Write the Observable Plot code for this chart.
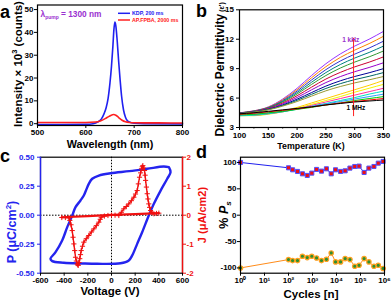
<!DOCTYPE html>
<html><head><meta charset="utf-8">
<script src="https://cdn.jsdelivr.net/npm/d3@7"></script>
<script src="https://cdn.jsdelivr.net/npm/@observablehq/plot@0.6"></script>
<style>
html,body{margin:0;padding:0;background:#fff;}
#chart{position:relative;width:392px;height:300px;overflow:hidden;background:#fff;}
</style></head><body><div id="chart"></div>
<script>
// ---------- Panel a: SHG emission spectra ----------
const kdpWavelength = [500,550,600,615,625,632,638,642,646,650,653,656,658,660,662,665,668,671,674,678,682,686,690,700,720,800];
const kdpIntensity  = [-0.4,-0.4,-0.3,0,0.8,2,4.5,7,11,18,25,34,41,44.5,43,36,27,19,12,6,2.8,1.3,0.7,0.2,0,-0.1];
const apWavelength  = [500,550,600,620,630,640,648,655,658,662,668,675,682,690,700,750,800];
const apIntensity   = [0.5,0.5,0.5,0.7,1.2,2.2,3.2,3.9,4.0,3.7,2.7,1.5,0.8,0.5,0.4,0.35,0.3];
const aXTicks = [500,600,700,800];
const aYTicks = [0,10,20,30,40,50];

// ---------- Panel b: dielectric permittivity vs temperature ----------
const temperatures = [100,125,150,175,200,225,250,275,300,325,350];
const permittivity = [
  [4.5,4.7,5.1,5.9,7.0,8.3,9.5,10.5,11.3,12.0,12.8],
  [4.49,4.69,5.07,5.82,6.85,8.07,9.2,10.14,10.89,11.55,12.3],
  [4.48,4.67,5.03,5.74,6.71,7.84,8.9,9.78,10.48,11.1,11.8],
  [4.48,4.66,5.0,5.66,6.56,7.61,8.6,9.42,10.08,10.65,11.3],
  [4.47,4.65,4.97,5.59,6.42,7.39,8.3,9.06,9.67,10.2,10.8],
  [4.46,4.63,4.93,5.49,6.24,7.11,7.94,8.62,9.18,9.66,10.2],
  [4.45,4.61,4.89,5.4,6.06,6.84,7.58,8.19,8.69,9.12,9.6],
  [4.44,4.59,4.85,5.3,5.89,6.56,7.22,7.76,8.2,8.58,9.0],
  [4.44,4.58,4.83,5.24,5.77,6.38,6.98,7.47,7.88,8.22,8.6],
  [4.43,4.57,4.8,5.18,5.65,6.2,6.74,7.18,7.55,7.86,8.2],
  [4.3,4.3,4.45,4.7,5.05,5.5,5.95,6.4,6.85,7.3,7.8],
  [4.2,4.2,4.35,4.6,4.95,5.35,5.75,6.15,6.6,7.0,7.4],
  [4.25,4.25,4.4,4.6,4.9,5.25,5.6,5.95,6.3,6.65,7.0],
  [4.2,4.25,4.4,4.6,4.85,5.15,5.45,5.75,6.05,6.4,6.7],
  [4.3,4.35,4.5,4.65,4.9,5.15,5.4,5.65,5.9,6.15,6.4],
  [4.3,4.35,4.5,4.65,4.85,5.05,5.3,5.5,5.75,5.95,6.15],
  [4.35,4.45,4.6,4.75,4.9,5.1,5.3,5.5,5.65,5.8,5.95],
  [4.4,4.5,4.65,4.8,4.95,5.1,5.3,5.45,5.6,5.7,5.8]
];
const curveColors = ["#9933ff","#ff8000","#3333cc","#008080","#339933","#cc0033","#9900cc","#000099","#006666","#999933","#ffcc00","#f5f500","#ff3399","#00e0c0","#3399ff","#00cc00","#ff0000","#000000"];
const bXTicks = [100,150,200,250,300,350];
const bXMinor = [125,175,225,275,325];
const bYTicks = [3,6,9,12,15];
const freqArrow = [{t: 298, from: 4.2, to: 12.1}];
const freqLabels = [{t: 293, v: 11.9, text: "1 kHz", anchor: "end"}, {t: 302, v: 5.0, text: "1 MHz", anchor: "start"}];

// ---------- Panel c: P-E loop and J-E curve ----------
const loopVoltage = [485,442,300,150,-8,-107,-163,-192,-215,-234,-262,-304,-332,-374,-417,-473,-516,-501,-403,-250,-121,76,146,175,217,259,315,358,414,471,499,485];
const loopP       = [0.414,0.42,0.40,0.38,0.362,0.342,0.314,0.27,0.215,0.17,0.127,0.069,-0.003,-0.103,-0.218,-0.319,-0.376,-0.396,-0.41,-0.416,-0.419,-0.414,-0.39,-0.347,-0.247,-0.147,-0.003,0.098,0.21,0.314,0.371,0.414];
const currentVoltage = [-420,-390,-360,-352,-342,-332,-325,-318,-311,-304,-297,-290,-285,-281,-275,-268,-262,-256,-245,-234,-213,-192,-170,-149,-128,-107,-95,-87,-60,-30,0,30,62,83,104,125,146,168,189,203,217,227,237,246,254,260,265,272,279,284,288,295,302,308,315,322,330,344,358,380,400];
const currentJ       = [-0.08,-0.08,-0.09,-0.18,-0.33,-0.53,-0.76,-0.99,-1.22,-1.45,-1.58,-1.68,-1.71,-1.73,-1.63,-1.5,-1.36,-1.22,-1.07,-0.93,-0.81,-0.70,-0.58,-0.47,-0.36,-0.24,-0.14,-0.07,-0.03,-0.01,0,0,-0.01,0.1,0.22,0.3,0.39,0.5,0.62,0.73,0.85,1.08,1.31,1.46,1.6,1.67,1.71,1.63,1.54,1.38,1.2,0.97,0.74,0.56,0.39,0.27,0.16,0.09,0.05,0.06,0.07];
const returnVoltage = [400,200,0,-200,-420];
const returnJ       = [0.07,0.04,0.01,-0.03,-0.07];
const cXTicks = [-600,-400,-200,0,200,400,600];
const cYTicks = [-0.5,-0.25,0,0.25,0.5];
const cJTicks = [-2,-1,0,1,2];

// ---------- Panel d: fatigue ----------
const cycles = [1,100,148,237,380,603,933,1479,2371,3802,6026,9120,14791,22909,36308,57544,87096,141254,223872,363078,549541,870963];
const psPositive = [100,89.9,86.1,83,78.5,75.4,79.8,86.8,83.6,88,78.5,86.1,83,84.2,89.3,92.4,93.1,81,89.3,92.4,98.7,101.9];
const psNegative = [-100,-84.2,-86.1,-86.1,-77.9,-80.4,-77.9,-81.1,-86.1,-83.6,-71.6,-88.6,-88.6,-82.3,-84.2,-96.8,-95,-82.3,-88.6,-96.8,-95,-101];
const dXTicks = [1,10,100,1000,10000,100000,1000000];
const dYTicks = [-100,-50,0,50,100];

// ---------- rendering ----------
const FONT = "'Liberation Sans', Arial, sans-serif";
const chart = document.getElementById("chart");
const baseStyle = {fontFamily: FONT, fontSize: "8px", fontWeight: "bold", background: "transparent", overflow: "visible", color: "black"};
function place(svg, left, top) {
  svg.style.position = "absolute";
  svg.style.left = left + "px";
  svg.style.top = top + "px";
  chart.appendChild(svg);
}
const fmt = d => String(d);

// Panel a
const kdpData = kdpWavelength.map((w, i) => ({w, v: kdpIntensity[i]}));
const apData = apWavelength.map((w, i) => ({w, v: apIntensity[i]}));
place(Plot.plot({
  width: 196, height: 150, marginLeft: 37, marginRight: 14, marginTop: 4.5, marginBottom: 25,
  x: {domain: [500, 800]}, y: {domain: [-0.8, 52]},
  style: baseStyle,
  marks: [
    Plot.line(kdpData, {x: "w", y: "v", stroke: "#2020f0", strokeWidth: 1.6, curve: "monotone-x"}),
    Plot.line(apData, {x: "w", y: "v", stroke: "#ff2020", strokeWidth: 1.6, curve: "monotone-x"}),
    Plot.axisX({ticks: aXTicks, tickSize: 3, tickPadding: 0.5, label: null, tickFormat: fmt}),
    Plot.axisY({ticks: aYTicks, tickSize: 3, tickPadding: 1, label: null, tickFormat: fmt}),
    Plot.frame({stroke: "black", strokeWidth: 1.2})
  ]
}), 0, 0);

// Panel b
const bData = permittivity.flatMap((arr, k) => arr.map((v, i) => ({t: temperatures[i], v, k})));
place(Plot.plot({
  width: 196, height: 150, marginLeft: 43, marginRight: 9, marginTop: 9.3, marginBottom: 23,
  x: {domain: [100, 350]}, y: {domain: [3, 15]},
  color: {domain: d3.range(permittivity.length), range: curveColors},
  style: baseStyle,
  marks: [
    Plot.line(bData, {x: "t", y: "v", z: "k", stroke: "k", strokeWidth: 1, curve: "monotone-x"}),
    Plot.arrow(freqArrow, {x1: "t", y1: "from", x2: "t", y2: "to", stroke: "#ff2020", strokeWidth: 1, headLength: 5}),
    Plot.text(freqLabels, {x: "t", y: "v", text: "text", textAnchor: "anchor", fontSize: 6.5, fill: (d) => d.anchor === "end" ? "#9933cc" : "black"}),
    Plot.axisX({ticks: bXTicks, tickSize: 3, tickPadding: 1.5, label: null, tickFormat: fmt}),
    Plot.axisX({ticks: bXMinor, tickSize: 1.5, label: null, tickFormat: () => ""}),
    Plot.axisY({ticks: bYTicks, tickSize: 3, tickPadding: 2.5, label: null, tickFormat: fmt}),
    Plot.frame({stroke: "black", strokeWidth: 1.2})
  ]
}), 196, 0);

// Panel c (P axis)
const loopData = loopVoltage.map((v, i) => ({v, p: loopP[i]}));
place(Plot.plot({
  width: 196, height: 155, marginLeft: 40, marginRight: 14, marginTop: 11.7, marginBottom: 27.3,
  x: {domain: [-600, 600]}, y: {domain: [-0.5, 0.5]},
  style: baseStyle,
  marks: [
    Plot.ruleY([0], {stroke: "black", strokeDasharray: "1.5,1.5"}),
    Plot.ruleX([0], {stroke: "black", strokeDasharray: "1.5,1.5"}),
    Plot.line(loopData, {x: "v", y: "p", stroke: "#2424ee", strokeWidth: 2.4, curve: "catmull-rom"}),
    Plot.axisX({ticks: cXTicks, tickSize: 3, tickPadding: 1, label: null, tickFormat: fmt}),
    Plot.axisY({ticks: cYTicks, tickSize: 3, tickPadding: 3, label: null, tickFormat: d => d.toFixed(2), color: "#2424ee"}),
    Plot.frame({stroke: "black", strokeWidth: 1.2}),
    Plot.ruleX([-600], {stroke: "#2424ee", strokeWidth: 1.4})
  ]
}), 0, 145);

// Panel c (J axis)
const currentData = currentVoltage.map((v, i) => ({v, j: currentJ[i]}));
const returnData = returnVoltage.map((v, i) => ({v, j: returnJ[i]}));
place(Plot.plot({
  width: 196, height: 155, marginLeft: 40, marginRight: 14, marginTop: 11.7, marginBottom: 27.3,
  x: {domain: [-600, 600], axis: null}, y: {domain: [-2, 2]},
  style: baseStyle,
  marks: [
    Plot.line(returnData, {x: "v", y: "j", stroke: "#f01010", strokeWidth: 2.2}),
    Plot.line(currentData, {x: "v", y: "j", stroke: "#f01010", strokeWidth: 1.4}),
    Plot.dot(currentData, {x: "v", y: "j", stroke: "#f01010", symbol: "plus", r: 1.8, strokeWidth: 1}),
    Plot.axisY({anchor: "right", ticks: cJTicks, tickSize: 3, tickPadding: 1, label: null, tickFormat: fmt, color: "#f01010"}),
    Plot.ruleX([600], {stroke: "#f01010", strokeWidth: 1.4})
  ]
}), 0, 145);

// Panel d
const sup = ["⁰","¹","²","³","⁴","⁵","⁶"];
const posData = cycles.map((c, i) => ({c, p: psPositive[i]}));
const negData = cycles.map((c, i) => ({c, p: psNegative[i]}));
place(Plot.plot({
  width: 196, height: 155, marginLeft: 44, marginRight: 8, marginTop: 11.7, marginBottom: 27.3,
  x: {type: "log", domain: [1, 1e6]}, y: {domain: [-110, 110]},
  style: baseStyle,
  marks: [
    Plot.line(posData, {x: "c", y: "p", stroke: "#2020ee", strokeWidth: 1}),
    Plot.line(negData, {x: "c", y: "p", stroke: "#ff8c1a", strokeWidth: 1}),
    Plot.dot(posData, {x: "c", y: "p", symbol: "square", r: 2.3, fill: "#ee1111", stroke: "#5050ff", strokeWidth: 1}),
    Plot.dot(negData, {x: "c", y: "p", r: 2.2, fill: "#2f8f2f", stroke: "#ffa020", strokeWidth: 1.2}),
    Plot.axisX({ticks: dXTicks, tickSize: 3, tickPadding: 1, label: null, tickFormat: d => "10" + sup[Math.round(Math.log10(d))]}),
    Plot.axisY({ticks: dYTicks, tickSize: 3, tickPadding: 1, label: null, tickFormat: fmt}),
    Plot.frame({stroke: "black", strokeWidth: 1.2})
  ]
}), 196, 145);

// ---------- overlay texts ----------
const ov = d3.select("#chart").append("svg").attr("width", 392).attr("height", 300)
  .style("position", "absolute").style("left", "0px").style("top", "0px").style("overflow", "visible")
  .attr("font-family", FONT).attr("font-weight", "bold");
function label(x, y, parts, {rotate = 0, anchor = "start", size = 11, fill = "black"} = {}) {
  const t = ov.append("text").attr("transform", `translate(${x},${y}) rotate(${rotate})`)
    .attr("text-anchor", anchor).attr("font-size", size).attr("fill", fill);
  for (const p of parts) {
    if (typeof p === "string") { t.append("tspan").text(p); continue; }
    const s = t.append("tspan").text(p.t);
    if (p.size) s.attr("font-size", p.size);
    if (p.dy) s.attr("dy", p.dy);
    if (p.dx) s.attr("dx", p.dx);
    if (p.italic) s.attr("font-style", "italic");
    if (p.fill) s.attr("fill", p.fill);
  }
}
// panel letters
label(0, 18.3, ["a"], {size: 18});
label(196, 16.5, ["b"], {size: 18});
label(0, 162, ["c"], {size: 18});
label(196, 158, ["d"], {size: 18});
// panel a
label(21.5, 64, ["Intensity × 10", {t: "3", size: 7.5, dy: -4.5}, {t: " (counts)", dy: 4.5}], {rotate: -90, anchor: "middle", size: 11.5});
label(110, 148.3, ["Wavelength (nm)"], {anchor: "middle", size: 10.8});
label(40.5, 17, ["λ", {t: "pump", size: 5, dy: 2}, {t: " = 1300 nm", dy: -2}], {size: 8.3, fill: "#9a30d0"});
ov.append("line").attr("x1", 118).attr("x2", 130).attr("y1", 13.3).attr("y2", 13.3).attr("stroke", "#2020f0").attr("stroke-width", 1.5);
ov.append("line").attr("x1", 118).attr("x2", 130).attr("y1", 20).attr("y2", 20).attr("stroke", "#ff2020").attr("stroke-width", 1.5);
label(132, 15.2, ["KDP, 200 ms"], {size: 5.3, fill: "#2020f0"});
label(132, 21.9, ["AP.FPBA, 2000 ms"], {size: 5.3, fill: "#ff2020"});
// panel b
label(223.5, 136.5, ["Dielectric Permittivity", {t: " (ε')", size: 7}], {rotate: -90, anchor: "start", size: 12});
label(311, 149, ["Temperature (K)"], {anchor: "middle", size: 8.8});
// panel c
label(15.5, 232, ["P (μC/cm", {t: "2", size: 8, dy: -4.5}, {t: ")", dy: 4.5}], {rotate: -90, anchor: "middle", size: 12.5, fill: "#2424ee"});
label(110, 294.5, ["Voltage (V)"], {anchor: "middle", size: 11.5});
label(206, 215, ["J (μA/cm2)"], {rotate: -90, anchor: "middle", size: 11, fill: "#f01010"});
// panel d
label(228, 215, ["% ", {t: "P", italic: true}, {t: "s", size: 8, dy: 2.5, italic: true}], {rotate: -90, anchor: "middle", size: 12.5});
label(311, 297.5, ["Cycles [n]"], {anchor: "middle", size: 11.5});
</script>
</body></html>
